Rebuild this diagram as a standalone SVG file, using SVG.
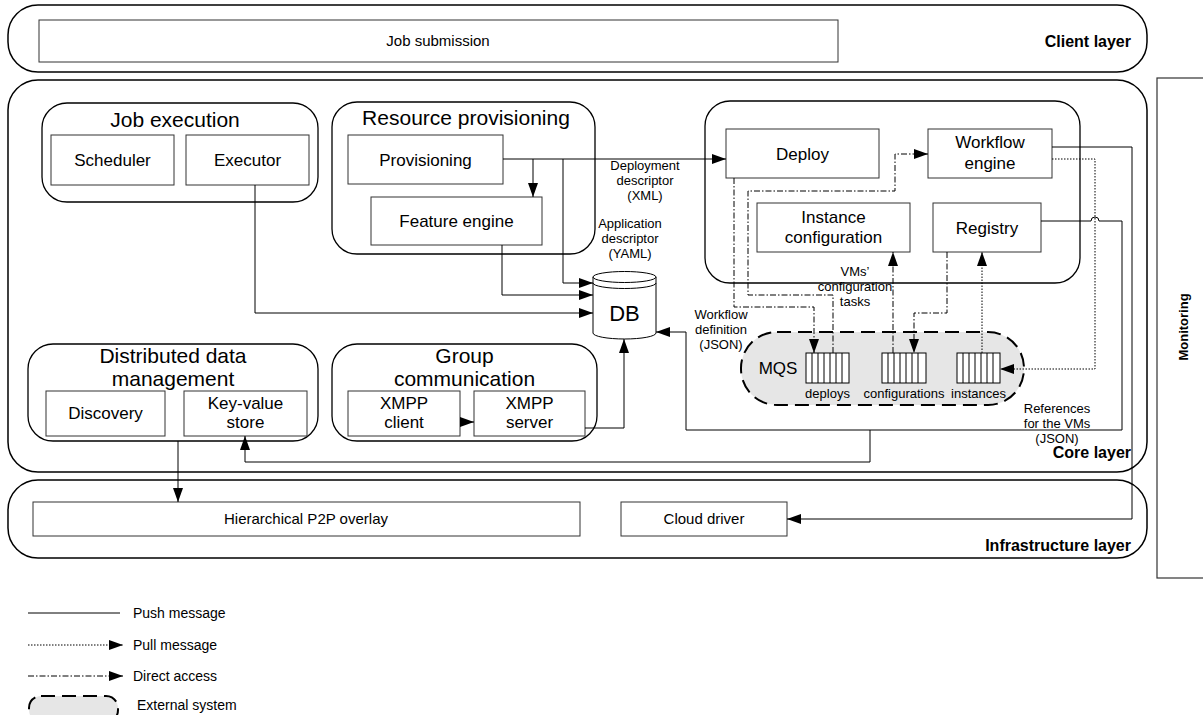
<svg xmlns="http://www.w3.org/2000/svg" width="1203" height="715" viewBox="0 0 1203 715">
<defs>
<style>
text{font-family:"Liberation Sans",Arial,sans-serif;fill:#000}
.layer{fill:#fff;stroke:#000;stroke-width:1.5}
.grp{fill:#fff;stroke:#000;stroke-width:1.3}
.box{fill:#fff;stroke:#333;stroke-width:1}
.t17{font-size:17px;text-anchor:middle}
.t15{font-size:15px;text-anchor:middle}
.t21{font-size:21px;text-anchor:middle}
.t13{font-size:13px;text-anchor:middle}
.lg{font-size:14px}
.lab{font-size:16px;font-weight:bold;text-anchor:end}
.c{fill:none;stroke:#000;stroke-width:1}
.pull{stroke-dasharray:1.5 1.5}
.direct{stroke-dasharray:6 2 1.5 2}
.ext{fill:#e6e6e6;stroke:#000;stroke-width:2;stroke-dasharray:14 7}
.q{fill:#fff;stroke:#000;stroke-width:1}
</style>
<marker id="ah" markerUnits="userSpaceOnUse" markerWidth="14" markerHeight="10" refX="14" refY="5" orient="auto">
<path d="M0,0 L14,5 L0,10 Z" fill="#000"/>
</marker>
</defs>

<g id="client-layer">
<rect class="layer" x="8" y="5" width="1139" height="67" rx="30"/>
<text class="lab" x="1131" y="47">Client layer</text>
</g>
<g id="job-submission">
<rect class="box" x="39" y="20" width="799" height="42"/>
<text class="t15" x="438" y="46">Job submission</text>
</g>

<g id="core-layer">
<rect class="layer" x="8" y="80" width="1139" height="392" rx="30"/>
<text class="lab" x="1131" y="458">Core layer</text>
</g>

<g id="infrastructure-layer">
<rect class="layer" x="8" y="480" width="1139" height="78" rx="30"/>
<text class="lab" x="1131" y="551">Infrastructure layer</text>
</g>
<g id="hierarchical-p2p">
<rect class="box" x="33" y="502" width="547" height="34"/>
<text class="t15" x="306" y="524">Hierarchical P2P overlay</text>
</g>
<g id="cloud-driver">
<rect class="box" x="621" y="502" width="166" height="34"/>
<text class="t15" x="704" y="524">Cloud driver</text>
</g>

<g id="monitoring">
<rect x="1157" y="78" width="60" height="500" fill="#fff" stroke="#333" stroke-width="1.2"/>
<text x="1188" y="327" transform="rotate(-90 1188 327)" style="font-size:13px;font-weight:bold;text-anchor:middle">Monitoring</text>
</g>

<g id="job-execution">
<rect class="grp" x="42" y="103" width="276" height="99" rx="25"/>
<text class="t21" x="175" y="127">Job execution</text>
</g>
<g id="scheduler">
<rect class="box" x="51" y="135" width="123" height="50"/>
<text class="t17" x="112.5" y="166">Scheduler</text>
</g>
<g id="executor">
<rect class="box" x="186" y="135" width="123" height="50"/>
<text class="t17" x="247.5" y="166">Executor</text>
</g>

<g id="resource-provisioning">
<rect class="grp" x="332" y="102" width="263" height="152" rx="25"/>
<text class="t21" x="466" y="125">Resource provisioning</text>
</g>
<g id="provisioning">
<rect class="box" x="348" y="135" width="155" height="49"/>
<text class="t17" x="425.5" y="166">Provisioning</text>
</g>
<g id="feature-engine">
<rect class="box" x="371" y="197" width="171" height="48"/>
<text class="t17" x="456.5" y="227">Feature engine</text>
</g>

<g id="deployment-group">
<rect class="grp" x="705" y="101" width="375" height="182" rx="25"/>
</g>
<g id="deploy">
<rect class="box" x="726" y="129" width="153" height="49"/>
<text class="t17" x="802.5" y="160">Deploy</text>
</g>
<g id="workflow-engine">
<rect class="box" x="928" y="129" width="124" height="49"/>
<text class="t17" x="990" y="148">Workflow</text>
<text class="t17" x="990" y="169">engine</text>
</g>
<g id="instance-configuration">
<rect class="box" x="757" y="203" width="153" height="49"/>
<text class="t17" x="833.5" y="223">Instance</text>
<text class="t17" x="833.5" y="243">configuration</text>
</g>
<g id="registry">
<rect class="box" x="933" y="203" width="108" height="49"/>
<text class="t17" x="987" y="234">Registry</text>
</g>

<g id="db">
<path d="M593,277 V333 A31.5,6 0 0 0 656,333 V277" fill="#fff" stroke="#000" stroke-width="1"/>
<ellipse cx="624.5" cy="277" rx="31.5" ry="5.5" fill="#fff" stroke="#000" stroke-width="1"/>
<path d="M593,283 A31.5,5.5 0 0 0 656,283" fill="none" stroke="#000" stroke-width="1"/>
<text x="624.5" y="321" style="font-size:22px;text-anchor:middle">DB</text>
</g>

<g id="distributed-data-management">
<rect class="grp" x="28" y="344" width="290" height="97" rx="25"/>
<text class="t21" x="173" y="363">Distributed data</text>
<text class="t21" x="173" y="386">management</text>
</g>
<g id="discovery">
<rect class="box" x="46" y="391" width="119" height="45"/>
<text class="t17" x="105.5" y="419">Discovery</text>
</g>
<g id="key-value-store">
<rect class="box" x="184" y="391" width="123" height="45"/>
<text class="t17" x="245.5" y="409">Key-value</text>
<text class="t17" x="245.5" y="428">store</text>
</g>

<g id="group-communication">
<rect class="grp" x="332" y="344" width="265" height="97" rx="25"/>
<text class="t21" x="464.5" y="363">Group</text>
<text class="t21" x="464.5" y="386">communication</text>
</g>
<g id="xmpp-client">
<rect class="box" x="348" y="391" width="112" height="45"/>
<text class="t17" x="404" y="409">XMPP</text>
<text class="t17" x="404" y="428">client</text>
</g>
<g id="xmpp-server">
<rect class="box" x="474" y="391" width="111" height="45"/>
<text class="t17" x="529.5" y="409">XMPP</text>
<text class="t17" x="529.5" y="428">server</text>
</g>

<g id="mqs">
<rect class="ext" x="741" y="332" width="283" height="73" rx="36"/>
<text class="t17" x="778" y="374">MQS</text>
</g>
<g id="queue-deploys">
<rect class="q" x="806" y="353" width="43" height="30"/>
<path class="c" d="M812,353V383M818,353V383M824,353V383M830,353V383M836,353V383M842,353V383"/>
<text class="t13" x="827.5" y="398">deploys</text>
</g>
<g id="queue-configurations">
<rect class="q" x="882" y="353" width="44" height="30"/>
<path class="c" d="M888,353V383M894,353V383M900,353V383M906,353V383M912,353V383M918,353V383"/>
<text class="t13" x="904" y="398">configurations</text>
</g>
<g id="queue-instances">
<rect class="q" x="957" y="353" width="43" height="30"/>
<path class="c" d="M963,353V383M969,353V383M975,353V383M981,353V383M987,353V383M993,353V383"/>
<text class="t13" x="978.5" y="398">instances</text>
</g>

<g id="connectors">
<path class="c" d="M503,159 H726" marker-end="url(#ah)"/>
<path class="c" d="M533,159 V197" marker-end="url(#ah)"/>
<path class="c" d="M563,159 V283 H593" marker-end="url(#ah)"/>
<path class="c" d="M502,245 V295 H593" marker-end="url(#ah)"/>
<path class="c" d="M255,185 V313 H593" marker-end="url(#ah)"/>
<path class="c" d="M585,428 H624 V339" marker-end="url(#ah)"/>
<path class="c" d="M460,422 H474" marker-end="url(#ah)"/>
<path class="c" d="M1041,221 H1091 A4,4 0 0 1 1099,221 H1122 V430 H686 V332 H656" marker-end="url(#ah)"/>
<path class="c" d="M870,430 V462 H245 V436" marker-end="url(#ah)"/>
<path class="c" d="M1052,147 H1132 V519 H787" marker-end="url(#ah)"/>
<path class="c" d="M178,441 V502" marker-end="url(#ah)"/>
<path class="c pull" d="M1052,159 H1095 V369 H1000" marker-end="url(#ah)"/>
<path class="c pull" d="M982,353 V252" marker-end="url(#ah)"/>
<path class="c direct" d="M734,178 V307 H814 V353" marker-end="url(#ah)"/>
<path class="c direct" d="M833,353 V295 H748 V191 H895 V154 H928" marker-end="url(#ah)"/>
<path class="c direct" d="M947,252 V313 H914 V353" marker-end="url(#ah)"/>
<path class="c direct" d="M893,353 V252" marker-end="url(#ah)"/>
<text class="t13" x="645" y="170">Deployment</text>
<text class="t13" x="645" y="185">descriptor</text>
<text class="t13" x="645" y="200">(XML)</text>
<text class="t13" x="630" y="228">Application</text>
<text class="t13" x="630" y="243">descriptor</text>
<text class="t13" x="630" y="258">(YAML)</text>
<text class="t13" x="855" y="276">VMs’</text>
<text class="t13" x="855" y="291">configuration</text>
<text class="t13" x="855" y="306">tasks</text>
<text class="t13" x="721" y="319">Workflow</text>
<text class="t13" x="721" y="334">definition</text>
<text class="t13" x="721" y="349">(JSON)</text>
<text class="t13" x="1057" y="413">References</text>
<text class="t13" x="1057" y="428">for the VMs</text>
<text class="t13" x="1057" y="443">(JSON)</text>
</g>

<g id="legend">
<path class="c" d="M28,613 H120"/>
<text class="lg" x="133" y="618">Push message</text>
<path class="c pull" d="M28,645 H123" marker-end="url(#ah)"/>
<text class="lg" x="133" y="650">Pull message</text>
<path class="c direct" d="M28,676 H123" marker-end="url(#ah)"/>
<text class="lg" x="133" y="681">Direct access</text>
<rect class="ext" x="29" y="696" width="89" height="26" rx="12"/>
<text class="lg" x="137" y="710">External system</text>
</g>
</svg>
